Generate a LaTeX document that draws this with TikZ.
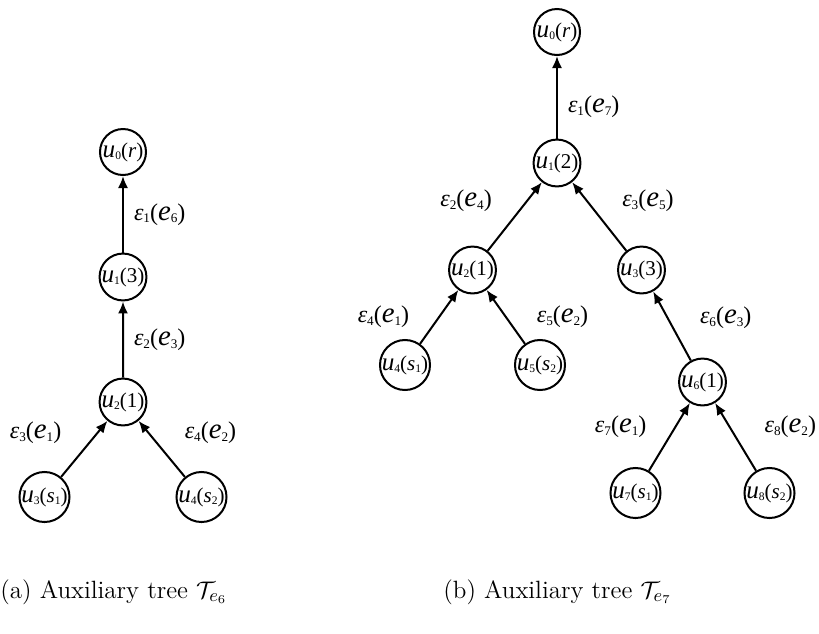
\documentclass[tikz,border=0pt]{standalone}
\usepackage{fontspec}
\usepackage{graphicx}
\newfontfamily\tnr{Liberation Serif}
\usetikzlibrary{arrows.meta}
\newcommand{\sub}[1]{\raisebox{-0.25ex}{\scalebox{0.55}{#1}}}
\newcommand{\bigit}[1]{\scalebox{1.2}{\itshape #1}}
\newcommand{\un}[2]{\bigit{u}\sub{#1}(#2)}
\newcommand{\ep}[2]{{\itshape ε}\sub{#1}(\bigit{e}\sub{#2})}
\begin{document}
\begin{tikzpicture}[
        x=1pt, y=1pt,
        vtx/.style={draw, circle, minimum size=23pt, inner sep=0pt, line width=1pt, font=\tnr\fontsize{10.5}{11}\selectfont},
        lbl/.style={draw=none, inner sep=0pt, font=\tnr\fontsize{12}{13}\selectfont},
        lblL/.style={lbl, anchor=east, xshift=-11pt, yshift=8pt},
        lblR/.style={lbl, anchor=west, xshift=11pt, yshift=8pt},
        lblV/.style={lbl, anchor=west, xshift=5pt},
        edge from parent/.style={draw, {Latex[length=6pt,width=5pt]}-, line width=1pt},
    ]
    \useasboundingbox (0,0) rectangle (409.5,-316.5);

    % (a)
    \begin{scope}[
        level 1/.style={level distance=62.5pt},
        level 2/.style={level distance=62.5pt},
        level 3/.style={level distance=47.5pt, sibling distance=78.5pt},
    ]
    \node[vtx](a0) at (61.5,-76){\un{0}{\textit{r}}}
    child{node[vtx](a1){\un{1}{3}}
        child{node[vtx](a2){\un{2}{1}}
            child{node[vtx](a3){\un{3}{\textit{s}\sub{1}}} edge from parent node[lblL]{\ep{3}{1}}}
            child{node[vtx](a4){\un{4}{\textit{s}\sub{2}}} edge from parent node[lblR]{\ep{4}{2}}}
            edge from parent node[lblV]{\ep{2}{3}}
        }
        edge from parent node[lblV]{\ep{1}{6}}
    }
    ;
    \end{scope}

    % (b)
    \begin{scope}[
        level 1/.style={level distance=65.5pt},
        level 2/.style={level distance=53.5pt, sibling distance=84.5pt},
        level 3/.style={level distance=47.5pt, sibling distance=67.5pt},
        level 4/.style={level distance=55.5pt, sibling distance=67pt},
    ]
    \node[vtx](b0) at (278.5,-16){\un{0}{\textit{r}}}
    child{node[vtx](b1){\un{1}{2}}
        child{node[vtx](b2){\un{2}{1}}
            child{node[vtx](b4){\un{4}{\textit{s}\sub{1}}} edge from parent node[lblL, xshift=-3.5pt, yshift=-8pt]{\ep{4}{1}}}
            child{node[vtx](b5){\un{5}{\textit{s}\sub{2}}} edge from parent node[lblR, xshift=4pt, yshift=-8pt]{\ep{5}{2}}}
            edge from parent node[lblL]{\ep{2}{4}}
        }
        child{node[vtx](b3){\un{3}{3}}
            child[missing]
            child[level distance=56pt, sibling distance=61pt]{node[vtx](b6){\un{6}{1}}
                child{node[vtx](b7){\un{7}{\textit{s}\sub{1}}} edge from parent node[lblL, yshift=-3pt]{\ep{7}{1}}}
                child{node[vtx](b8){\un{8}{\textit{s}\sub{2}}} edge from parent node[lblR, xshift=3pt, yshift=-3pt]{\ep{8}{2}}}
                edge from parent node[lblR, xshift=2.5pt, yshift=-4pt]{\ep{6}{3}}
            }
            edge from parent node[lblR]{\ep{3}{5}}
        }
        edge from parent node[lblV, pos=0.62]{\ep{1}{7}}
    }
    ;
    \end{scope}

    \node[anchor=base west, inner sep=0pt, font=\fontsize{12.5}{14}\selectfont](capa) at (0,-299){(a) Auxiliary tree $\mathcal{T}_{e_6}$};
    \node[anchor=base west, inner sep=0pt, font=\fontsize{12.5}{14}\selectfont](capb) at (221.5,-299){(b) Auxiliary tree $\mathcal{T}_{e_7}$};
\end{tikzpicture}
\end{document}
